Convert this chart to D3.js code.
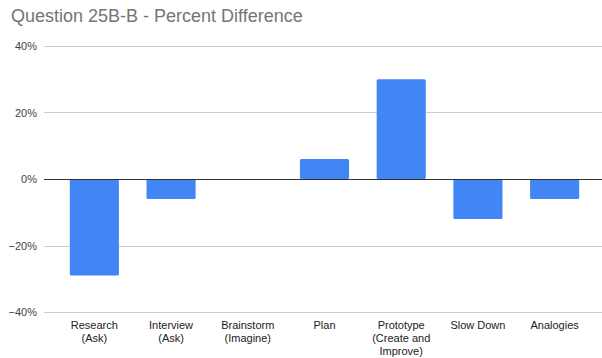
<!DOCTYPE html>
<html>
<head>
<meta charset="utf-8">
<script src="https://cdn.jsdelivr.net/npm/d3@7"></script>
<style>
  body { margin: 0; background: #fff; }
  svg { display: block; font-family: "Liberation Sans", Arial, sans-serif; }
</style>
</head>
<body>
<svg id="chart" width="602" height="358"></svg>
<script>
// Category labels (each entry split into display lines)
const categories = [
  ["Research", "(Ask)"],
  ["Interview", "(Ask)"],
  ["Brainstorm", "(Imagine)"],
  ["Plan"],
  ["Prototype", "(Create and", "Improve)"],
  ["Slow Down"],
  ["Analogies"]
];
// Percent difference per category
const values = [-0.29, -0.06, 0, 0.06, 0.30, -0.12, -0.06];
const yTicks = [-0.4, -0.2, 0, 0.2, 0.4];

const svg = d3.select("#chart");
const W = 602, H = 358;
const plot = { left: 44, right: 602, top: 46, bottom: 312 };

svg.append("rect").attr("width", W).attr("height", H).attr("fill", "#fff");

svg.append("text")
  .attr("x", 11).attr("y", 22)
  .attr("font-size", 18)
  .attr("fill", "#757575")
  .text("Question 25B-B - Percent Difference");

const keys = categories.map((c, i) => i);
const x = d3.scaleBand()
  .domain(keys)
  .range([56, 593])
  .paddingInner(0.36)
  .paddingOuter(0.18);

const y = d3.scaleLinear()
  .domain([-0.4, 0.4])
  .range([plot.bottom, plot.top]);

// Gridlines
svg.append("g")
  .selectAll("line")
  .data(yTicks.filter(t => t !== 0))
  .join("line")
  .attr("x1", plot.left).attr("x2", plot.right)
  .attr("y1", d => Math.round(y(d)) + 0.5)
  .attr("y2", d => Math.round(y(d)) + 0.5)
  .attr("stroke", "#cccccc")
  .attr("stroke-width", 1);

// Y axis labels
const yAxis = d3.axisLeft(y)
  .tickValues(yTicks)
  .tickSize(0)
  .tickPadding(0)
  .tickFormat(d3.format(".0%"));
const gy = svg.append("g")
  .attr("transform", `translate(37,0)`)
  .call(yAxis);
gy.select(".domain").remove();
gy.selectAll("text")
  .attr("font-size", 11)
  .attr("fill", "#444")
  .attr("font-family", "Liberation Sans, Arial, sans-serif");

// Bars
svg.append("g")
  .selectAll("rect")
  .data(values)
  .join("rect")
  .attr("x", (d, i) => x(i))
  .attr("width", x.bandwidth())
  .attr("y", d => Math.min(y(d), y(0)))
  .attr("height", d => Math.abs(y(d) - y(0)))
  .attr("rx", 1.5)
  .attr("fill", "#4285f4");

// Zero baseline
svg.append("line")
  .attr("x1", plot.left).attr("x2", plot.right)
  .attr("y1", Math.round(y(0)) + 0.5)
  .attr("y2", Math.round(y(0)) + 0.5)
  .attr("stroke", "#333")
  .attr("stroke-width", 1);

// X axis category labels
const gx = svg.append("g");
categories.forEach((lines, i) => {
  const t = gx.append("text")
    .attr("x", x(i) + x.bandwidth() / 2)
    .attr("y", 329)
    .attr("text-anchor", "middle")
    .attr("font-size", 11)
    .attr("fill", "#222");
  lines.forEach((ln, j) => {
    t.append("tspan")
      .attr("x", x(i) + x.bandwidth() / 2)
      .attr("dy", j === 0 ? 0 : 13)
      .text(ln);
  });
});
</script>
</body>
</html>
